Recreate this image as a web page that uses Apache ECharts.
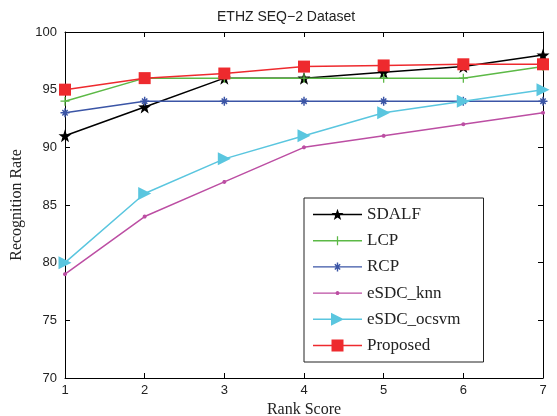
<!DOCTYPE html>
<html><head><meta charset="utf-8">
<script src="https://cdn.jsdelivr.net/npm/echarts@6/dist/echarts.min.js"></script>
<style>html,body{margin:0;padding:0;background:#fff}#c{width:557px;height:416px}</style>
</head><body><div id="c"></div>
<script>
var rankScores = [1, 2, 3, 4, 5, 6, 7];
var seriesNames = ['SDALF', 'LCP', 'RCP', 'eSDC_knn', 'eSDC_ocsvm', 'Proposed'];
var sdalf = [91, 93.5, 96, 96, 96.5, 97, 98];
var lcp = [94, 96, 96, 96, 96, 96, 97];
var rcp = [93, 94, 94, 94, 94, 94, 94];
var esdcKnn = [79, 84, 87, 90, 91, 92, 93];
var esdcOcsvm = [80, 86, 89, 91, 93, 94, 95];
var proposed = [95, 96, 96.4, 97, 97.1, 97.2, 97.2];
var yTicks = [70, 75, 80, 85, 90, 95, 100];

// marker shapes as polygons in a unit box (-0.5..0.5)
function starPoly(){
  var p = [];
  for (var i = 0; i < 10; i++) {
    var r = (i % 2 === 0) ? 0.5 : 0.2;
    var a = -Math.PI / 2 + i * Math.PI / 5;
    p.push([r * Math.cos(a), r * Math.sin(a) + 0.04]);
  }
  return [p];
}
function barPoly(angle, len, w){
  var c = Math.cos(angle), s = Math.sin(angle);
  var pts = [[-len, -w], [len, -w], [len, w], [-len, w]];
  return pts.map(function(q){ return [q[0]*c - q[1]*s, q[0]*s + q[1]*c]; });
}
var shapes = {
  star: starPoly(),
  plus: [barPoly(0, 0.5, 0.07), barPoly(Math.PI/2, 0.5, 0.07)],
  ast: [barPoly(0, 0.5, 0.08), barPoly(Math.PI/2, 0.5, 0.08), barPoly(Math.PI/4, 0.42, 0.08), barPoly(-Math.PI/4, 0.42, 0.08)],
  dot: (function(){ var p=[]; for (var i=0;i<16;i++){ var a=i*Math.PI/8; p.push([0.5*Math.cos(a),0.5*Math.sin(a)]);} return [p]; })(),
  tri: [[[-0.5, -0.5], [0.5, 0], [-0.5, 0.5]]],
  sq: [[[-0.5, -0.5], [0.5, -0.5], [0.5, 0.5], [-0.5, 0.5]]]
};
function polyPath(polys, cx, cy, size){
  return polys.map(function(p){
    return p.map(function(q, i){
      return (i === 0 ? 'M' : 'L') + (cx + q[0]*size).toFixed(2) + ',' + (cy + q[1]*size).toFixed(2);
    }).join(' ') + ' Z';
  }).join(' ');
}
function markerSymbol(polys){ return 'path://' + polyPath(polys, 50, 50, 100); }
var LW = 49, LH = 14;
function legendIcon(polys, size){
  var line = 'M0,6.3 L49,6.3 L49,7.7 L0,7.7 Z';
  return 'path://M0,0 Z M49,14 Z ' + line + ' ' + polyPath(polys, LW/2, LH/2, size);
}

var defs = [
  {name: seriesNames[0], data: sdalf, color: '#000000', shape: 'star', size: 13, legSize: 12.5},
  {name: seriesNames[1], data: lcp, color: '#5cb946', shape: 'plus', size: 9, legSize: 9},
  {name: seriesNames[2], data: rcp, color: '#3b55a6', shape: 'ast', size: 9, legSize: 9},
  {name: seriesNames[3], data: esdcKnn, color: '#bc4ea3', shape: 'dot', size: 4, legSize: 4},
  {name: seriesNames[4], data: esdcOcsvm, color: '#5ac6df', shape: 'tri', size: 13, legSize: 13},
  {name: seriesNames[5], data: proposed, color: '#ee2a2e', shape: 'sq', size: 12, legSize: 12}
];

function pairs(arr){ return rankScores.map(function(x,i){ return [x, arr[i]]; }); }

var series = defs.map(function(d){
  return {
    name: d.name, type: 'line', data: pairs(d.data),
    symbol: markerSymbol(shapes[d.shape]), symbolSize: d.size,
    showAllSymbol: true,
    lineStyle: {color: d.color, width: 1.5},
    itemStyle: {color: d.color, borderWidth: 0},
    emphasis: {disabled: true}, animation: false
  };
});

var legendData = defs.map(function(d){
  return {name: d.name, icon: legendIcon(shapes[d.shape], d.legSize), itemStyle: {color: d.color, borderWidth: 0}};
});

var chart = echarts.init(document.getElementById('c'), null, {renderer: 'canvas'});
var axisLine = {show: true, lineStyle: {color: '#000', width: 1}};
var tick = {show: true, inside: true, length: 5, lineStyle: {color: '#000'}};
chart.setOption({
  backgroundColor: '#fff',
  animation: false,
  grid: {left: 65, right: 14, top: 32, bottom: 38, containLabel: false, outerBoundsMode: 'none'},
  xAxis: [
    {type: 'value', min: 1, max: 7, interval: 1, position: 'bottom',
     axisLine: axisLine, axisTick: tick, splitLine: {show: false},
     axisLabel: {color: '#222', fontFamily: 'Arial, Liberation Sans', fontSize: 13, margin: 6},
     name: 'Rank Score', nameLocation: 'middle', nameGap: 23,
     nameTextStyle: {color: '#222', fontFamily: 'Times New Roman, Liberation Serif', fontSize: 16}},
    {type: 'value', min: 1, max: 7, interval: 1, position: 'top',
     axisLine: axisLine, axisTick: tick, splitLine: {show: false}, axisLabel: {show: false}}
  ],
  yAxis: [
    {type: 'value', min: yTicks[0], max: yTicks[yTicks.length-1], interval: 5, position: 'left',
     axisLine: axisLine, axisTick: tick, splitLine: {show: false},
     axisLabel: {color: '#222', fontFamily: 'Arial, Liberation Sans', fontSize: 13, margin: 8},
     name: 'Recognition Rate', nameLocation: 'middle', nameGap: 37, nameRotate: 90,
     nameTextStyle: {color: '#222', fontFamily: 'Times New Roman, Liberation Serif', fontSize: 16}},
    {type: 'value', min: yTicks[0], max: yTicks[yTicks.length-1], interval: 5, position: 'right',
     axisLine: axisLine, axisTick: tick, splitLine: {show: false}, axisLabel: {show: false}}
  ],
  legend: {
    orient: 'vertical', left: 304, top: 198,
    padding: [8, 23, 8, 9], itemGap: 9.2, itemWidth: LW, itemHeight: LH,
    backgroundColor: '#fff', borderColor: '#222', borderWidth: 1,
    textStyle: {color: '#222', fontFamily: 'Times New Roman, Liberation Serif', fontSize: 17},
    data: legendData
  },
  graphic: [
    {type: 'text', left: 217, top: 10,
     style: {text: 'ETHZ SEQ\u22122 Dataset', fill: '#222', font: '14px Arial, "Liberation Sans"'}}
  ],
  series: series
});
</script></body></html>
